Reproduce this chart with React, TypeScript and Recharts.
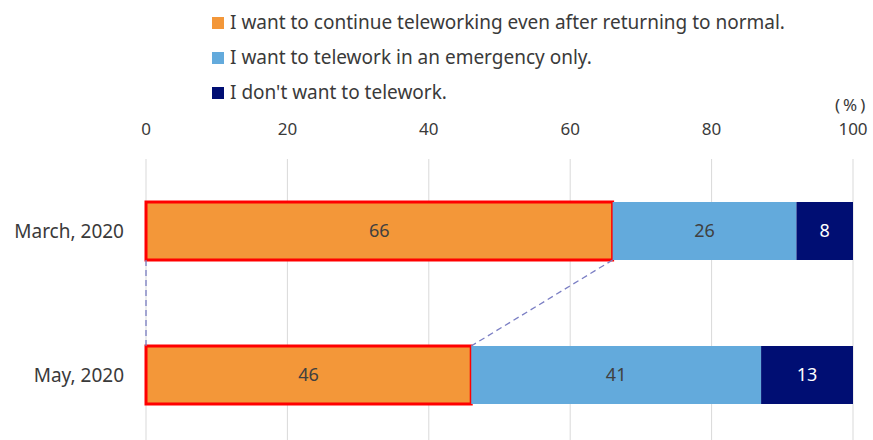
import React from 'react';
import { BarChart, Bar, XAxis, YAxis, CartesianGrid, LabelList, ReferenceLine } from 'recharts';

const categories = ['March, 2020', 'May, 2020'];
const continueValues = [66, 46];
const emergencyValues = [26, 41];
const dontValues = [8, 13];
const xTicks = [0, 20, 40, 60, 80, 100];
const seriesKeys = ['cont', 'emer', 'dont'];
const seriesNames = [
  'I want to continue teleworking even after returning to normal.',
  'I want to telework in an emergency only.',
  "I don't want to telework.",
];
const seriesColors = ['#F39739', '#63AADC', '#000E73'];
const labelColors = ['#404040', '#404040', '#FFFFFF'];
const unitLabel = '(%)';

const data = categories.map((name, i) => ({
  name,
  cont: continueValues[i],
  emer: emergencyValues[i],
  dont: dontValues[i],
}));

const FONT = '"Noto Sans", "Open Sans", sans-serif';
const TEXT = '#3A3A3A';
const BAR_SIZE = 58;

const Connector = (props: any) => {
  const { x1, y1, x2, y2 } = props;
  return (
    <line
      x1={x1}
      y1={y1 + BAR_SIZE / 2}
      x2={x2}
      y2={y2 - BAR_SIZE / 2}
      stroke="#7B7FC4"
      strokeWidth={1.3}
      strokeDasharray="6 4"
    />
  );
};

const LegendBlock = () => (
  <div style={{ position: 'absolute', top: 5, left: 212, fontFamily: FONT, fontSize: 19, color: TEXT, lineHeight: '35px' }}>
    {seriesNames.map((n, i) => (
      <div key={n} style={{ display: 'flex', alignItems: 'center', height: 35 }}>
        <div style={{ width: 12, height: 12, background: seriesColors[i], marginRight: 6 }} />
        <span>{n}</span>
      </div>
    ))}
  </div>
);

export default function App() {
  return (
    <div style={{ position: 'absolute', left: 0, top: 0, width: 873, height: 440, overflow: 'hidden', background: '#fff' }}>
      <BarChart
        width={873}
        height={447}
        data={data}
        layout="vertical"
        margin={{ top: 129, right: 20, left: 0, bottom: 0 }}
        barSize={BAR_SIZE}
      >
        <CartesianGrid horizontal={false} vertical={true} stroke="#D9D9D9" />
        <XAxis
          type="number"
          orientation="top"
          domain={[0, 100]}
          ticks={xTicks}
          axisLine={false}
          tickLine={false}
          tickSize={0}
          tickMargin={24}
          height={30}
          tick={{ fill: TEXT, fontSize: 17, fontFamily: FONT }}
        />
        <YAxis
          type="category"
          dataKey="name"
          width={146}
          axisLine={false}
          tickLine={false}
          tickSize={0}
          tickMargin={22}
          tick={{ fill: TEXT, fontSize: 19, fontFamily: FONT }}
        />
        {seriesKeys.map((k, i) => (
          <Bar
            key={k}
            dataKey={k}
            name={seriesNames[i]}
            stackId="a"
            fill={seriesColors[i]}
            stroke={i === 0 ? '#FF0000' : undefined}
            strokeWidth={i === 0 ? 3 : 0}
            isAnimationActive={false}
          >
            <LabelList
              dataKey={k}
              position="center"
              fill={labelColors[i]}
              style={{ fontSize: 18, fontFamily: FONT }}
            />
          </Bar>
        ))}
        <ReferenceLine
          segment={[
            { x: 0, y: categories[0] },
            { x: 0, y: categories[1] },
          ]}
          shape={Connector}
        />
        <ReferenceLine
          segment={[
            { x: continueValues[0], y: categories[0] },
            { x: continueValues[1], y: categories[1] },
          ]}
          shape={Connector}
        />
      </BarChart>
      <LegendBlock />
      <div style={{ position: 'absolute', left: 835, top: 93, fontFamily: FONT, fontSize: 17, letterSpacing: 3, color: TEXT, lineHeight: '24px', whiteSpace: 'nowrap' }}>
        {unitLabel}
      </div>
    </div>
  );
}
